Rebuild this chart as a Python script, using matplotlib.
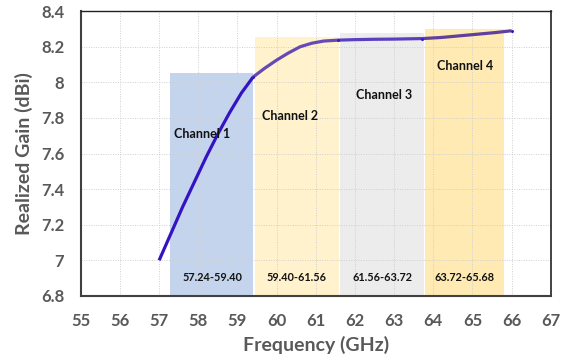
import matplotlib
matplotlib.use("Agg")
import matplotlib.pyplot as plt
import numpy as np

# ---- data ----
channel_names = ["Channel 1", "Channel 2", "Channel 3", "Channel 4"]
channel_ranges = ["57.24-59.40", "59.40-61.56", "61.56-63.72", "63.72-65.68"]
band_start = [57.27, 59.44, 61.63, 63.79]
band_end = [59.40, 61.59, 63.76, 65.80]
band_top = [8.05, 8.255, 8.28, 8.30]

seg1_f = [57.0, 57.3, 57.6, 57.9, 58.2, 58.5, 58.8, 59.1, 59.4]
seg1_g = [7.00, 7.15, 7.30, 7.44, 7.58, 7.71, 7.83, 7.94, 8.03]
seg2_f = [59.4, 59.7, 60.0, 60.3, 60.6, 60.9, 61.2, 61.56]
seg2_g = [8.03, 8.08, 8.125, 8.165, 8.20, 8.22, 8.232, 8.237]
seg3_f = [61.56, 62.0, 62.5, 63.0, 63.72]
seg3_g = [8.237, 8.240, 8.242, 8.243, 8.246]
seg4_f = [63.72, 64.2, 64.7, 65.2, 65.6, 66.0]
seg4_g = [8.246, 8.252, 8.262, 8.272, 8.280, 8.290]

x_ticks = list(range(55, 68))
y_ticks = [6.8, 7.0, 7.2, 7.4, 7.6, 7.8, 8.0, 8.2, 8.4]
y_tick_labels = ["6.8", "7", "7.2", "7.4", "7.6", "7.8", "8", "8.2", "8.4"]

name_pos_f = [58.1, 60.35, 62.75, 64.8]
name_pos_g = [7.71, 7.81, 7.93, 8.09]
range_pos_f = [58.35, 60.5, 62.7, 64.8]
range_pos_g = 6.905

# ---- style ----
plt.rcParams['font.family'] = ['Lato', 'DejaVu Sans']
band_colors = ["#c5d4ed", "#fff2cc", "#ececec", "#ffeab3"]
seg_colors = ["#3414c2", "#6649b6", "#5a40c0", "#60409e"]
gray = "#595959"

fig = plt.figure(figsize=(5.69, 3.6), dpi=100)
ax = fig.add_axes([0.142, 0.178, 0.826, 0.791])

for s, e, t, c in zip(band_start, band_end, band_top, band_colors):
    ax.bar(s, t - 6.8, width=e - s, bottom=6.8, align='edge', color=c,
           edgecolor='none', zorder=1)

segs = [(seg1_f, seg1_g), (seg2_f, seg2_g), (seg3_f, seg3_g), (seg4_f, seg4_g)]
for (f, g), c in zip(segs, seg_colors):
    ax.plot(f, g, color=c, lw=2.3, solid_capstyle='butt',
            solid_joinstyle='round', zorder=3)
jf = [seg1_f[-1], seg2_f[-1], seg3_f[-1], seg4_f[-1]]
jg = [seg1_g[-1], seg2_g[-1], seg3_g[-1], seg4_g[-1]]
ax.plot(jf, jg, 'o', color="#3a18c8", ms=2.2, zorder=4, mew=0)

for n, xf, yg in zip(channel_names, name_pos_f, name_pos_g):
    ax.text(xf, yg, n, ha='center', va='center', fontsize=9,
            fontweight='bold', color='#111111', zorder=5)
for r, xf in zip(channel_ranges, range_pos_f):
    ax.text(xf, range_pos_g, r, ha='center', va='center', fontsize=7.8,
            fontweight='bold', color='#111111', zorder=5)

ax.set_xlim(55, 67)
ax.set_ylim(6.8, 8.4)
ax.set_xticks(x_ticks)
ax.set_xticklabels([str(v) for v in x_ticks])
ax.set_yticks(y_ticks)
ax.set_yticklabels(y_tick_labels)
ax.tick_params(axis='both', length=0, labelsize=12, labelcolor=gray)
ax.tick_params(axis='x', pad=12)
ax.tick_params(axis='y', pad=12)
for lab in ax.get_xticklabels() + ax.get_yticklabels():
    lab.set_fontweight('bold')

ax.grid(True, color="#cfcfcf", linestyle=(0, (1, 1.5)), linewidth=0.7, zorder=2)
for gl in ax.get_xgridlines() + ax.get_ygridlines():
    gl.set_zorder(2)

ax.spines['left'].set_color('#404040')
ax.spines['left'].set_linewidth(1.5)
ax.spines['bottom'].set_color('#404040')
ax.spines['bottom'].set_linewidth(1.5)
ax.spines['top'].set_color('#222222')
ax.spines['top'].set_linewidth(1.0)
ax.spines['right'].set_color('#222222')
ax.spines['right'].set_linewidth(1.2)

ax.set_xlabel("Frequency (GHz)", fontsize=14, fontweight='bold', color=gray, labelpad=5)
ax.set_ylabel("Realized Gain (dBi)", fontsize=14, fontweight='bold', color=gray, labelpad=6)

fig.savefig("out.png", dpi=100)
